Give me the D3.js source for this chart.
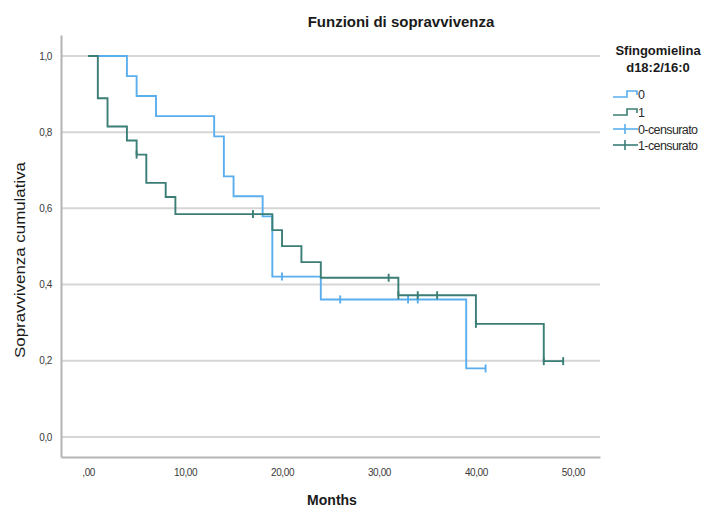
<!DOCTYPE html>
<html><head><meta charset="utf-8">
<script src="https://cdn.jsdelivr.net/npm/d3@7"></script>
<style>body{margin:0;background:#fff;} svg{display:block;font-family:"Liberation Sans",Arial,sans-serif;}</style>
</head><body>
<svg id="chart" width="710" height="512"></svg>
<script>
// ---- Data ----
const groups = ["0", "1"];
const times0 = [0, 4, 5, 7, 13, 14, 15, 18, 19, 24, 39];
const surv0  = [1.0, 0.947, 0.895, 0.842, 0.789, 0.684, 0.632, 0.579, 0.421, 0.361, 0.180];
const end0 = 41;
const censor0 = [20, 26, 33, 34, 41];

const times1 = [0, 1, 2, 4, 5, 6, 8, 9, 19, 20, 22, 24, 32, 40, 47];
const surv1  = [1.0, 0.889, 0.815, 0.778, 0.741, 0.667, 0.630, 0.585, 0.543, 0.501, 0.459, 0.418, 0.372, 0.297, 0.199];
const end1 = 49;
const censor1 = [5, 17, 31, 32, 34, 36, 40, 47, 49];

const xTicks = [0, 10, 20, 30, 40, 50];
const xTickLabels = [",00", "10,00", "20,00", "30,00", "40,00", "50,00"];
const yTicks = [0, 0.2, 0.4, 0.6, 0.8, 1.0];
const yTickLabels = ["0,0", "0,2", "0,4", "0,6", "0,8", "1,0"];
const legendLabels = ["0", "1", "0-censurato", "1-censurato"];
const colors = ["#5aaeee", "#3b7e76"];

// ---- Chart ----
const svg = d3.select("#chart");
const x = d3.scaleLinear().domain([-2.8, 52.8]).range([61, 600]);
const y = d3.scaleLinear().domain([-0.0525, 1.055]).range([457, 35]);

// gridlines
svg.append("g").selectAll("line").data(yTicks).join("line")
  .attr("x1", x(-2.8)).attr("x2", x(52.8))
  .attr("y1", d => y(d)).attr("y2", d => y(d))
  .attr("stroke", "#d6d6d6").attr("stroke-width", 2);

// axes
const xAxis = d3.axisBottom(x).tickValues(xTicks)
  .tickFormat((d, i) => xTickLabels[i]).tickSize(0).tickPadding(12);
const gx = svg.append("g").attr("transform", `translate(0,${y(-0.0525)})`).call(xAxis);
gx.select(".domain").attr("stroke", "#b4b4b4").attr("stroke-width", 2);
gx.selectAll("text").attr("fill", "#3a3a3a").style("font-size", "10px").style("letter-spacing", "-0.4px");

const yAxis = d3.axisLeft(y).tickValues(yTicks)
  .tickFormat((d, i) => yTickLabels[i]).tickSize(0).tickPadding(9);
const gy = svg.append("g").attr("transform", `translate(${x(-2.8)},0)`).call(yAxis);
gy.select(".domain").attr("stroke", "#b4b4b4").attr("stroke-width", 2);
gy.selectAll("text").attr("fill", "#3a3a3a").style("font-size", "10px").style("letter-spacing", "-0.4px");

// step curves
function stepData(times, surv, end) {
  const pts = times.map((t, i) => [t, surv[i]]);
  pts.push([end, surv[surv.length - 1]]);
  return pts;
}
function survAt(times, surv, t) {
  let v = surv[0];
  for (let i = 0; i < times.length; i++) if (times[i] <= t) v = surv[i];
  return v;
}
const line = d3.line().x(d => x(d[0])).y(d => y(d[1])).curve(d3.curveStepAfter);
const series = [
  {times: times0, surv: surv0, end: end0, cens: censor0, color: colors[0]},
  {times: times1, surv: surv1, end: end1, cens: censor1, color: colors[1]}
];
series.forEach(s => {
  svg.append("path").datum(stepData(s.times, s.surv, s.end))
    .attr("d", line).attr("fill", "none")
    .attr("stroke", s.color).attr("stroke-width", 1.9);
  svg.append("g").selectAll("line").data(s.cens).join("line")
    .attr("x1", d => x(d)).attr("x2", d => x(d))
    .attr("y1", d => y(survAt(s.times, s.surv, d)) - 4)
    .attr("y2", d => y(survAt(s.times, s.surv, d)) + 4)
    .attr("stroke", s.color).attr("stroke-width", 1.9);
});

// title and axis labels
svg.append("text").attr("x", 401).attr("y", 27).attr("text-anchor", "middle")
  .style("font-size", "15px").style("font-weight", "bold").attr("fill", "#1a1a1a")
  .text("Funzioni di sopravvivenza");
svg.append("text").attr("x", 332).attr("y", 505).attr("text-anchor", "middle")
  .style("font-size", "14px").style("font-weight", "bold").attr("fill", "#1a1a1a")
  .text("Months");
svg.append("text").attr("transform", "translate(25,260) rotate(-90)").attr("text-anchor", "middle")
  .style("font-size", "15px").attr("fill", "#1a1a1a")
  .attr("textLength", 196).attr("lengthAdjust", "spacingAndGlyphs")
  .text("Sopravvivenza cumulativa");

// legend
const lg = svg.append("g");
lg.append("text").attr("x", 658).attr("y", 55).attr("text-anchor", "middle")
  .style("font-size", "13px").style("font-weight", "bold").attr("fill", "#1a1a1a").text("Sfingomielina");
lg.append("text").attr("x", 658).attr("y", 72).attr("text-anchor", "middle")
  .style("font-size", "13px").style("font-weight", "bold").attr("fill", "#1a1a1a").text("d18:2/16:0");
const rowY = [94, 112, 129, 145];
legendLabels.forEach((lab, i) => {
  const yy = rowY[i];
  const c = colors[i % 2];
  if (i < 2) {
    lg.append("path").attr("d", `M613,${yy + 3}H627V${yy - 3}H637V${yy + 1}`)
      .attr("fill", "none").attr("stroke", c).attr("stroke-width", 1.6);
  } else {
    lg.append("line").attr("x1", 613).attr("x2", 638).attr("y1", yy).attr("y2", yy)
      .attr("stroke", c).attr("stroke-width", 1.6);
    lg.append("line").attr("x1", 625).attr("x2", 625).attr("y1", yy - 5).attr("y2", yy + 5)
      .attr("stroke", c).attr("stroke-width", 1.6);
  }
  lg.append("text").attr("x", 638).attr("y", yy + 4.5)
    .style("font-size", "12.5px").attr("fill", "#2a2a2a").style("letter-spacing", "-0.6px").text(lab);
});
</script>
</body></html>
